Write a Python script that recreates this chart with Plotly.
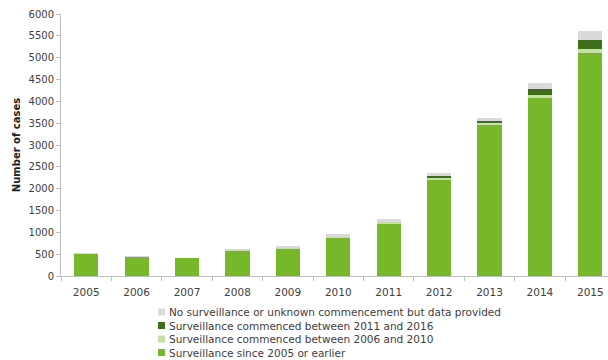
import plotly.graph_objects as go

years = ["2005", "2006", "2007", "2008", "2009", "2010", "2011", "2012", "2013", "2014", "2015"]
since_2005 = [510, 440, 410, 580, 630, 880, 1200, 2220, 3450, 4080, 5110]
comm_2006_2010 = [0, 0, 0, 20, 20, 20, 30, 40, 50, 70, 90]
comm_2011_2016 = [0, 0, 0, 0, 0, 0, 0, 40, 60, 140, 200]
no_surv = [10, 5, 0, 15, 30, 60, 80, 50, 60, 120, 200]

series = [
    ("Surveillance since 2005 or earlier", since_2005, "#76b82a"),
    ("Surveillance commenced between 2006 and 2010", comm_2006_2010, "#c6e1a6"),
    ("Surveillance commenced between 2011 and 2016", comm_2011_2016, "#3e6e1a"),
    ("No surveillance or unknown commencement but data provided", no_surv, "#dadada"),
]

W, H = 608, 360
ML, MR, MT, MB = 61, 0, 14, 84
PW, PH = W - ML - MR, H - MT - MB

def px_x(px):
    return (px - ML) / PW

def px_y(py):
    return (H - MB - py) / PH

fig = go.Figure()
for name, vals, col in series:
    fig.add_trace(go.Bar(x=years, y=vals, name=name, marker=dict(color=col, line=dict(width=0)),
                         width=0.48, showlegend=False))

# legend drawn manually (compact, as in reference), top item = last series
shapes, annots = [], []
row_y = [312, 325.5, 339, 352.5]
for (name, vals, col), cy in zip(reversed(series), row_y):
    shapes.append(dict(type="rect", xref="paper", yref="paper",
                       x0=px_x(158), x1=px_x(165), y0=px_y(cy + 3.5), y1=px_y(cy - 3.5),
                       fillcolor=col, line=dict(width=0)))
    annots.append(dict(text=name, xref="paper", yref="paper", x=px_x(167), y=px_y(cy),
                       xanchor="left", yanchor="middle", showarrow=False,
                       font=dict(size=10.5, color="#404040")))

font = "DejaVu Sans"
fig.update_layout(
    barmode="stack",
    width=W, height=H,
    margin=dict(l=ML, r=MR, t=MT, b=MB),
    plot_bgcolor="white", paper_bgcolor="white",
    font=dict(family=font, size=10, color="#404040"),
    showlegend=False,
    shapes=shapes,
    annotations=annots,
    xaxis=dict(type="category", range=[-0.5, 10.35], showline=True, linecolor="#bfbfbf",
               ticks="outside", tickson="boundaries", ticklen=4, tickcolor="#bfbfbf",
               ticklabelstandoff=6,
               showgrid=False, tickfont=dict(size=10.5, color="#404040")),
    yaxis=dict(range=[0, 6000], dtick=500, showline=True, linecolor="#bfbfbf",
               ticks="outside", ticklen=4, tickcolor="#bfbfbf", showgrid=False, zeroline=False,
               tickfont=dict(size=10, color="#404040"),
               title=dict(text="<b>Number of cases</b>", font=dict(size=10, color="#202020"), standoff=6)),
)

fig.write_html("out.html")
